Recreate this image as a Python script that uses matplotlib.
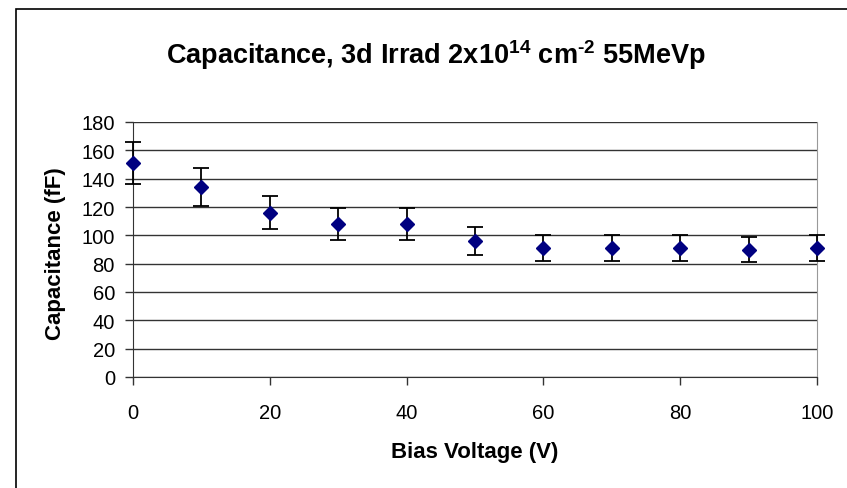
"""Capacitance vs bias voltage for the 3d irradiated sensor,
plotted with 10% error bars in the old spreadsheet style.
"""

import matplotlib
import matplotlib.pyplot as plt
from matplotlib.patches import Rectangle

matplotlib.use("Agg")

# Measured capacitance per bias step
bias_v = [0, 10, 20, 30, 40, 50, 60, 70, 80, 90, 100]
cap_ff = [151, 134, 116, 108, 108, 96, 91, 91, 91, 90, 91]
cap_err = [15, 13.5, 11.5, 11, 11, 10, 9.2, 9.2, 9.2, 9, 9.2]

y_ticks = [0, 20, 40, 60, 80, 100, 120, 140, 160, 180]
x_ticks = [0, 20, 40, 60, 80, 100]


def main():
    plt.rcParams["font.family"] = ["Liberation Sans", "DejaVu Sans"]
    plt.rcParams["mathtext.fontset"] = "custom"
    plt.rcParams["mathtext.rm"] = "Liberation Sans:bold"
    plt.rcParams["mathtext.bf"] = "Liberation Sans:bold"

    W, H = 847, 489
    fig = plt.figure(figsize=(W / 100, H / 100), dpi=100)

    # outer chart frame, running off the right and bottom edges
    fig.patches.append(
        Rectangle(
            (16 / W, -0.1), 1.2, 1.1 - 10 / H,
            transform=fig.transFigure, fill=False,
            edgecolor="black", linewidth=1.2,
        )
    )

    ax = fig.add_axes([133 / W, 1 - 378 / H, 684 / W, 255 / H])

    ax.errorbar(
        bias_v, cap_ff, yerr=cap_err,
        fmt="D", color="#000080", markersize=7,
        ecolor="black", elinewidth=1.3, capsize=6, capthick=1.3,
        clip_on=False, zorder=3,
    )

    ax.set_xlim(0, 100)
    ax.set_ylim(0, 180)
    ax.set_xticks(x_ticks)
    ax.set_yticks(y_ticks)
    ax.yaxis.grid(True, color="#333333", linewidth=1)
    ax.set_axisbelow(True)

    ax.tick_params(axis="both", direction="out", length=6, width=1,
                   labelsize=14.5, color="#333333")
    ax.tick_params(axis="x", pad=13)
    ax.tick_params(axis="y", pad=7)

    ax.spines["top"].set_visible(False)
    ax.spines["right"].set_color("#999999")
    ax.spines["left"].set_color("#333333")
    ax.spines["bottom"].set_color("#333333")

    # axis titles placed in figure space
    fig.text(475 / W, 1 - 453 / H, "Bias Voltage (V)", ha="center",
             va="center", fontsize=16, fontweight="bold")
    fig.text(55 / W, 1 - 254 / H, "Capacitance (fF)", ha="center",
             va="center", rotation=90, fontsize=16, fontweight="bold")

    fig.text(
        436 / W, 1 - 64 / H,
        r"Capacitance, 3d Irrad 2x10$^{14}$ cm$^{\text{-2}}$ 55MeVp",
        ha="center", va="baseline", fontsize=19.5, fontweight="bold",
    )

    fig.savefig("out.png", dpi=100)


if __name__ == "__main__":
    main()
